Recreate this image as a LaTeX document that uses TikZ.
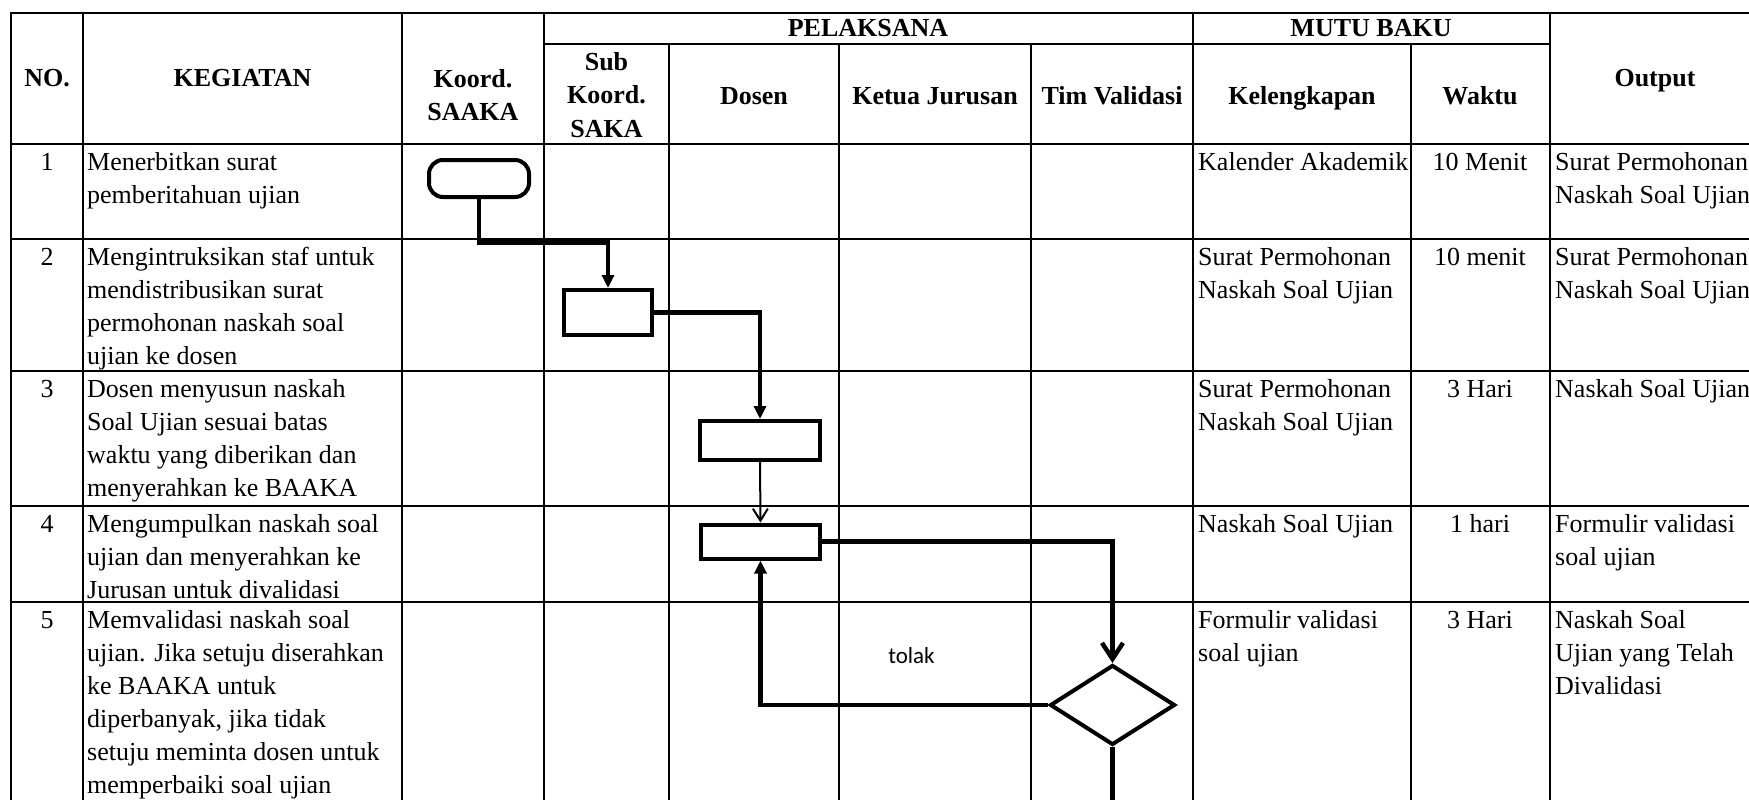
\documentclass[tikz,border=0pt]{standalone}
\usepackage{fontspec}
\setmainfont{Liberation Serif}
\newfontfamily\tolakfont{Carlito}
\usetikzlibrary{arrows.meta,shapes.geometric}
\newcommand\firststrut{\rule{0pt}{24pt}}
\begin{document}
\begin{tikzpicture}[x=1pt,y=-1pt,
  tbl/.style={line width=2.7pt},
  hd/.style={font=\fontsize{26}{33.5}\selectfont\bfseries, inner sep=0pt, align=center},
  bd/.style={font=\fontsize{26}{33}\selectfont, inner sep=0pt, align=left, anchor=north west},
  nm/.style={font=\fontsize{26}{33}\selectfont, inner sep=0pt, anchor=north},
  procbox/.style={draw, rectangle, line width=4pt, inner sep=0pt},
  termbox/.style={draw, rectangle, rounded corners=14pt, line width=4pt, inner sep=0pt},
  decbox/.style={draw, diamond, line width=4pt, inner sep=0pt},
  flowline/.style={line width=4.5pt, line join=miter},
  thinflow/.style={line width=2pt},
  filledtip/.style={-{Triangle[width=12pt,length=13pt]}},
  opentip/.style={-{Straight Barb[width=21pt,length=16pt]}},
  thintip/.style={-{Straight Barb[width=15pt,length=12pt]}}
]
\useasboundingbox (0,0) rectangle (1749,800);
\fill[white] (0,0) rectangle (1749,800);

% ---- table grid ----
\draw[tbl] (11,805) -- (11,13) -- (1760,13);
\draw[tbl] (544,44) -- (1550,44);
\foreach \yy in {144,239,371,506,602} \draw[tbl] (11,\yy) -- (1760,\yy);
\foreach \xx in {83,402,544,1193,1550} \draw[tbl] (\xx,13) -- (\xx,805);
\foreach \xx in {669,839,1031,1411} \draw[tbl] (\xx,44) -- (\xx,805);

% ---- header ----
\node[hd, anchor=base] (hno) at (47,87) {NO.};
\node[hd, anchor=base] (hkeg) at (242.5,87) {KEGIATAN};
\node[hd, anchor=north] (hkoord) at (473,63) {\firststrut Koord.\\SAAKA};
\node[hd, anchor=base] (hpel) at (868,37) {PELAKSANA};
\node[hd, anchor=north] (hsub) at (606.5,46) {\firststrut Sub\\Koord.\\SAKA};
\node[hd, anchor=base] (hdos) at (754,104) {Dosen};
\node[hd, anchor=base] (hket) at (935,104) {Ketua Jurusan};
\node[hd, anchor=base] (htim) at (1112,104) {Tim Validasi};
\node[hd, anchor=base] (hmutu) at (1371,37) {MUTU BAKU};
\node[hd, anchor=base] (hkel) at (1302,104) {Kelengkapan};
\node[hd, anchor=base] (hwak) at (1480,104) {Waktu};
\node[hd, anchor=base] (hout) at (1655,87) {Output};

% ---- row 1 ----
\node[nm] (n1) at (47,146) {\firststrut 1};
\node[bd] (k1) at (87,146) {\firststrut Menerbitkan surat\\pemberitahuan ujian};
\node[bd] (m1) at (1198,146) {\firststrut Kalender Akademik};
\node[nm] (w1) at (1480,146) {\firststrut 10 Menit};
\node[bd] (o1) at (1555,146) {\firststrut Surat Permohonan\\Naskah Soal Ujian};
% ---- row 2 ----
\node[nm] (n2) at (47,241) {\firststrut 2};
\node[bd] (k2) at (87,241) {\firststrut Mengintruksikan staf untuk\\mendistribusikan surat\\permohonan naskah soal\\ujian ke dosen};
\node[bd] (m2) at (1198,241) {\firststrut Surat Permohonan\\Naskah Soal Ujian};
\node[nm] (w2) at (1480,241) {\firststrut 10 menit};
\node[bd] (o2) at (1555,241) {\firststrut Surat Permohonan\\Naskah Soal Ujian};
% ---- row 3 ----
\node[nm] (n3) at (47,373) {\firststrut 3};
\node[bd] (k3) at (87,373) {\firststrut Dosen menyusun naskah\\Soal Ujian sesuai batas\\waktu yang diberikan dan\\menyerahkan ke BAAKA};
\node[bd] (m3) at (1198,373) {\firststrut Surat Permohonan\\Naskah Soal Ujian};
\node[nm] (w3) at (1480,373) {\firststrut 3 Hari};
\node[bd] (o3) at (1555,373) {\firststrut Naskah Soal Ujian};
% ---- row 4 ----
\node[nm] (n4) at (47,508) {\firststrut 4};
\node[bd] (k4) at (87,508) {\firststrut Mengumpulkan naskah soal\\ujian dan menyerahkan ke\\Jurusan untuk divalidasi};
\node[bd] (m4) at (1198,508) {\firststrut Naskah Soal Ujian};
\node[nm] (w4) at (1480,508) {\firststrut 1 hari};
\node[bd] (o4) at (1555,508) {\firststrut Formulir validasi\\soal ujian};
% ---- row 5 ----
\node[nm] (n5) at (47,604) {\firststrut 5};
\node[bd] (k5) at (87,604) {\firststrut Memvalidasi naskah soal\\ujian. Jika setuju diserahkan\\ke BAAKA untuk\\diperbanyak, jika tidak\\setuju meminta dosen untuk\\memperbaiki soal ujian};
\node[bd] (m5) at (1198,604) {\firststrut Formulir validasi\\soal ujian};
\node[nm] (w5) at (1480,604) {\firststrut 3 Hari};
\node[bd] (o5) at (1555,604) {\firststrut Naskah Soal\\Ujian yang Telah\\Divalidasi};

% ---- flowchart ----
\node[termbox, minimum width=100pt, minimum height=37pt] (t1) at (479,178.5) {};
\node[procbox, minimum width=88pt, minimum height=45pt] (b1) at (608,312.5) {};
\node[procbox, minimum width=120pt, minimum height=39pt] (b2) at (760,440.5) {};
\node[procbox, minimum width=119pt, minimum height=34pt] (b3) at (760.5,541.5) {};
\node[decbox, minimum width=125pt, minimum height=80pt] (d1) at (1112.5,705) {};
\coordinate (e1) at (1112.5,810);

\draw[flowline, filledtip] (t1.south) -- ++(0,43.5) -| (b1.north);
\draw[flowline, filledtip] (b1.east) -| (b2.north);
\draw[thinflow, thintip] (b2.south) -- (b3.north);
\draw[flowline, opentip] (b3.east) -| (d1.north);
\draw[flowline, filledtip] (d1.west) -| (b3.south);
\draw[flowline] (d1.south) -- (e1);

\node[font=\tolakfont\fontsize{23}{27}\selectfont, inner sep=0pt, anchor=base] (lbl) at (911.5,663) {tolak};
\end{tikzpicture}
\end{document}
